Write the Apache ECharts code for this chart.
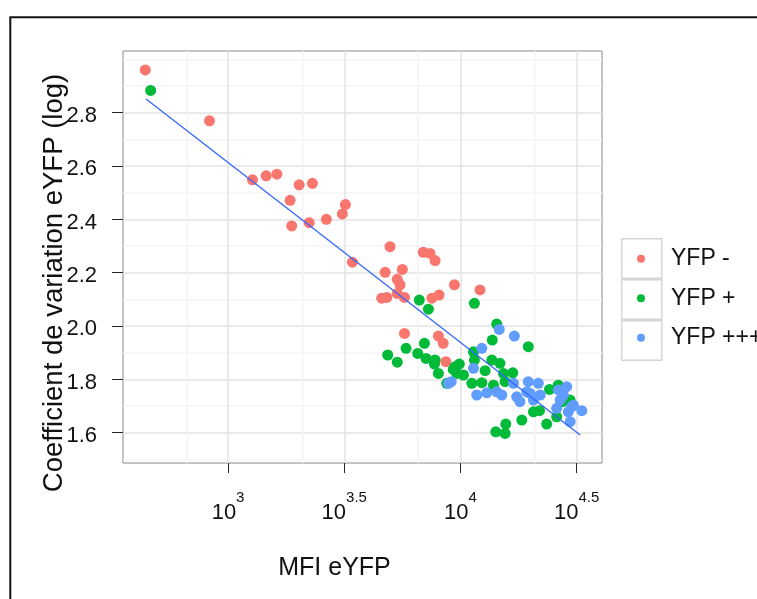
<!DOCTYPE html>
<html><head><meta charset="utf-8">
<script src="https://cdn.jsdelivr.net/npm/echarts@6/dist/echarts.min.js"></script>
<style>html,body{margin:0;padding:0;background:#fff}#c{width:757px;height:599px}</style>
</head><body><div id="c"></div>
<script>
const seriesNames = ['YFP -', 'YFP +', 'YFP +++'];
const seriesColors = ['#F8766D', '#00BA38', '#619CFF'];

// x = log10(MFI eYFP), y = coefficient de variation (log)
const yfpNegX = [2.644, 2.920, 3.105, 3.164, 3.210, 3.306, 3.363, 3.267, 3.274, 3.349, 3.423, 3.492, 3.505, 3.535, 3.697, 3.840, 3.869, 3.891, 3.676, 3.750, 3.728, 3.740, 3.974, 4.084, 3.661, 3.683, 3.728, 3.759, 3.877, 3.908, 3.759, 3.905, 3.926, 3.937];
const yfpNegY = [2.960, 2.769, 2.548, 2.563, 2.569, 2.529, 2.535, 2.471, 2.375, 2.387, 2.400, 2.420, 2.455, 2.239, 2.297, 2.276, 2.272, 2.245, 2.201, 2.212, 2.175, 2.154, 2.154, 2.135, 2.104, 2.107, 2.122, 2.107, 2.104, 2.116, 1.972, 1.962, 1.935, 1.866];

const yfpPosX = [2.667, 3.823, 3.862, 4.060, 4.156, 4.137, 4.292, 3.845, 3.766, 3.687, 3.728, 3.816, 3.852, 3.891, 3.888, 3.905, 3.977, 3.995, 4.013, 3.984, 3.941, 4.049, 4.092, 4.106, 4.135, 4.060, 4.142, 4.185, 4.225, 4.192, 4.383, 4.421, 4.440, 4.472, 4.314, 4.340, 4.264, 4.371, 4.414, 4.195, 4.152, 4.192, 4.056, 4.170, 3.969];
const yfpPosY = [2.883, 2.097, 2.063, 2.085, 2.007, 1.947, 1.922, 1.935, 1.916, 1.891, 1.864, 1.897, 1.878, 1.872, 1.857, 1.822, 1.847, 1.857, 1.816, 1.822, 1.785, 1.785, 1.787, 1.832, 1.872, 1.872, 1.778, 1.822, 1.824, 1.791, 1.762, 1.778, 1.716, 1.722, 1.678, 1.682, 1.647, 1.632, 1.659, 1.632, 1.603, 1.597, 1.903, 1.860, 1.837];

const yfpHighX = [4.167, 4.232, 4.092, 4.056, 3.960, 3.948, 4.070, 4.113, 4.156, 4.178, 4.228, 4.242, 4.292, 4.335, 4.285, 4.314, 4.343, 4.421, 4.443, 4.457, 4.429, 4.479, 4.522, 4.414, 4.464, 4.472, 4.256, 4.300, 4.486];
const yfpHighY = [1.987, 1.962, 1.916, 1.841, 1.791, 1.785, 1.741, 1.749, 1.753, 1.741, 1.785, 1.734, 1.791, 1.785, 1.753, 1.722, 1.741, 1.760, 1.741, 1.772, 1.722, 1.697, 1.682, 1.691, 1.678, 1.641, 1.716, 1.747, 1.703];

const fitX = [2.647, 4.515];
const fitY = [2.851, 1.591];

const xTicks = [3, 3.5, 4, 4.5];
const xMinorBreaks = [2.823, 3.321, 3.818, 4.321];
const yTicks = [1.6, 1.8, 2.0, 2.2, 2.4, 2.6, 2.8];
const yMinorBreaks = [1.5, 1.7, 1.9, 2.1, 2.3, 2.5, 2.7, 2.9, 3.0];
const xRange = [2.548, 4.609];
const yRange = [1.486, 3.031];

const zip = (a, b) => a.map((v, i) => [v, b[i]]);
const FONT = '"Liberation Sans", Arial, Helvetica, sans-serif';

const chart = echarts.init(document.getElementById('c'), null, {renderer: 'canvas'});

const minorLine = {show: true, lineStyle: {color: '#f4f4f4', width: 1.5}};
const majorLine = {show: true, lineStyle: {color: '#e3e3e3', width: 1.5}};

const option = {
  animation: false,
  backgroundColor: '#fff',
  textStyle: {fontFamily: FONT},
  graphic: [{
    type: 'rect', silent: true, z: 100,
    shape: {x: 10.3, y: 17.2, width: 900, height: 800},
    style: {fill: 'none', stroke: '#111', lineWidth: 2}
  }],
  grid: {left: 123, top: 51, width: 479, height: 412, show: true, borderColor: '#888', borderWidth: 1,
    backgroundColor: '#fff', containLabel: false, outerBoundsMode: 'none'},
  xAxis: [{
    type: 'value', min: xRange[0], max: xRange[1], gridIndex: 0, position: 'bottom',
    axisLine: {show: false}, axisTick: {show: false, customValues: xMinorBreaks},
    axisLabel: {show: false, customValues: xMinorBreaks},
    splitLine: minorLine
  }, {
    type: 'value', min: xRange[0], max: xRange[1], gridIndex: 0, position: 'bottom', offset: 0,
    name: 'MFI eYFP', nameLocation: 'middle', nameGap: 93, nameMoveOverlap: false,
    nameTextStyle: {fontSize: 25, color: '#111', fontFamily: FONT, padding: [0, 56, 0, 0]},
    axisLine: {show: false},
    axisTick: {show: true, inside: false, length: 10, customValues: xTicks, lineStyle: {color: '#222', width: 1}},
    axisLabel: {
      customValues: xTicks, margin: 27, color: '#111', hideOverlap: false, showMinLabel: true, showMaxLabel: true,
      formatter: v => '{b|10}{s|' + String(+v.toFixed(1)) + '}',
      rich: {
        b: {fontSize: 22, lineHeight: 34, verticalAlign: 'bottom', fontFamily: FONT, color: '#111'},
        s: {fontSize: 15, lineHeight: 15, verticalAlign: 'top', fontFamily: FONT, color: '#111'}
      }
    },
    splitLine: majorLine
  }],
  yAxis: [{
    type: 'value', min: yRange[0], max: yRange[1], gridIndex: 0, position: 'left',
    axisLine: {show: false}, axisTick: {show: false, customValues: yMinorBreaks},
    axisLabel: {show: false, customValues: yMinorBreaks},
    splitLine: minorLine
  }, {
    type: 'value', min: yRange[0], max: yRange[1], gridIndex: 0, position: 'left', offset: 0,
    name: 'Coefficient de variation eYFP (log)', nameLocation: 'middle', nameRotate: 90, nameGap: 55,
    nameMoveOverlap: false,
    nameTextStyle: {fontSize: 27.5, color: '#111', fontFamily: FONT, padding: [0, 52, 0, 0]},
    axisLine: {show: false},
    axisTick: {show: true, inside: false, length: 11, customValues: yTicks, lineStyle: {color: '#222', width: 1}},
    axisLabel: {customValues: yTicks, margin: 26, fontSize: 22, color: '#111', verticalAlign: 'top', lineHeight: 7,
      hideOverlap: false, showMinLabel: true, showMaxLabel: true,
      formatter: v => v.toFixed(1)},
    splitLine: majorLine
  }],
  legend: [{
    data: seriesNames, orient: 'vertical', left: 621, top: 238, padding: 0,
    itemWidth: 40, itemHeight: 39.5, itemGap: 0, icon: 'rect', selectedMode: false,
    itemStyle: {color: '#fff', borderColor: '#d6d6d6', borderWidth: 1.5},
    formatter: () => '', textStyle: {fontSize: 1}
  }, {
    data: seriesNames, orient: 'vertical', left: 637, top: 239, padding: 0,
    itemWidth: 8, itemHeight: 8, itemGap: 0, icon: 'circle', selectedMode: false,
    textStyle: {fontSize: 23, lineHeight: 39.5, color: '#111', fontFamily: FONT, padding: [0, 0, 0, 21]}
  }],
  series: [
    {name: seriesNames[0], type: 'scatter', xAxisIndex: 1, yAxisIndex: 1, symbol: 'circle', symbolSize: 11,
     itemStyle: {color: seriesColors[0], opacity: 1}, data: zip(yfpNegX, yfpNegY)},
    {name: seriesNames[1], type: 'scatter', xAxisIndex: 1, yAxisIndex: 1, symbol: 'circle', symbolSize: 11,
     itemStyle: {color: seriesColors[1], opacity: 1}, data: zip(yfpPosX, yfpPosY)},
    {name: seriesNames[2], type: 'scatter', xAxisIndex: 1, yAxisIndex: 1, symbol: 'circle', symbolSize: 11,
     itemStyle: {color: seriesColors[2], opacity: 1}, data: zip(yfpHighX, yfpHighY)},
    {name: 'fit', type: 'line', xAxisIndex: 1, yAxisIndex: 1, showSymbol: false, symbol: 'none',
     lineStyle: {color: '#3366FF', width: 1.3}, data: zip(fitX, fitY), z: 3}
  ]
};
chart.setOption(option);
</script></body></html>
